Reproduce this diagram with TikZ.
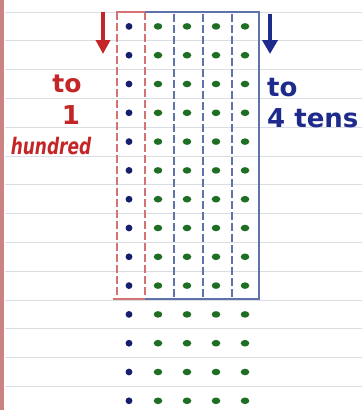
\documentclass[tikz,border=0pt]{standalone}
\usepackage{fontspec}
\setmainfont{DejaVu Sans}
\usetikzlibrary{arrows.meta}
\definecolor{ruleline}{RGB}{218,222,226}
\definecolor{marginred}{RGB}{205,130,130}
\definecolor{redbox}{RGB}{212,115,115}
\definecolor{redink}{RGB}{196,38,40}
\definecolor{bluebox}{RGB}{95,115,170}
\definecolor{blueink}{RGB}{30,42,140}
\definecolor{bluedot}{RGB}{24,30,110}
\definecolor{greendot}{RGB}{30,110,35}
\tikzset{
  redtxt/.style={text=redink, font=\bfseries\fontsize{25}{30}\selectfont, inner sep=0pt},
  bluetxt/.style={text=blueink, font=\bfseries\fontsize{26}{30}\selectfont, inner sep=0pt, anchor=west},
  redsolid/.style={draw=redbox, line width=2.4pt},
  reddash/.style={draw=redbox, line width=1.8pt, dash pattern=on 8pt off 3pt},
  bluesolid/.style={draw=bluebox, line width=2pt},
  bluedash/.style={draw=bluebox, line width=1.4pt, dash pattern=on 8pt off 3pt},
  redarrow/.style={draw=redink, line width=3.8pt, -{Triangle[length=14pt,width=14pt]}},
  bluearrow/.style={draw=blueink, line width=3.8pt, -{Triangle[length=14pt,width=15pt]}},
}
\begin{document}
\begin{tikzpicture}[x=1pt,y=-1pt]
\useasboundingbox (0,0) rectangle (362,410);
\fill[white] (0,0) rectangle (362,410);
% ruled lines
\foreach \k in {0,...,13}
  \draw[ruleline, line width=1pt] (5,12+28.8*\k) -- (362,12+28.8*\k);
% margin
\draw[marginred, line width=4pt] (2,0) -- (2,410);
% dots
\foreach \r in {0,...,13} {
  \fill[bluedot] (129,26.4+28.8*\r) circle (3.4pt);
  \foreach \c in {1,...,4}
    \fill[greendot] (129+29*\c,26.4+28.8*\r) ellipse (4.3pt and 3.3pt);
}
% red box (1 hundred column)
\coordinate (rtl) at (116,12);
\coordinate (rtr) at (145,12);
\coordinate (rbl) at (113,299);
\coordinate (rbr) at (145,299);
\draw[redsolid] (rtl) -- (rtr);
\draw[redsolid] (rbl) -- (rbr);
\draw[reddash] (117,12) -- (117,299);
\draw[reddash] (rtr) -- (rbr);
% blue box (4 tens columns)
\coordinate (btr) at (259,12);
\coordinate (bbr) at (259,299);
\draw[bluesolid] (rtr) -- (btr) -- (bbr) -- (rbr);
\foreach \x in {174,203,232}
  \draw[bluedash] (\x,14) -- (\x,298);
% arrows
\coordinate (ra1) at (103,12);
\coordinate (ra2) at (103,54);
\draw[redarrow] (ra1) -- (ra2);
\coordinate (ba1) at (270,14);
\coordinate (ba2) at (270,54);
\draw[bluearrow] (ba1) -- (ba2);
% labels
\node[redtxt] (lto) at (67,84) {to};
\node[redtxt, font=\bfseries\fontsize{26}{28}\selectfont] (lone) at (71,115) {1};
\node[redtxt, font=\bfseries\itshape\fontsize{17.5}{20}\selectfont] (lhund) at (51,146) {\scalebox{0.97}[1.3]{hundred}};
\node[bluetxt] (rto) at (267,88) {to};
\node[bluetxt] (rtens) at (267,118) {4 tens};
\end{tikzpicture}
\end{document}
